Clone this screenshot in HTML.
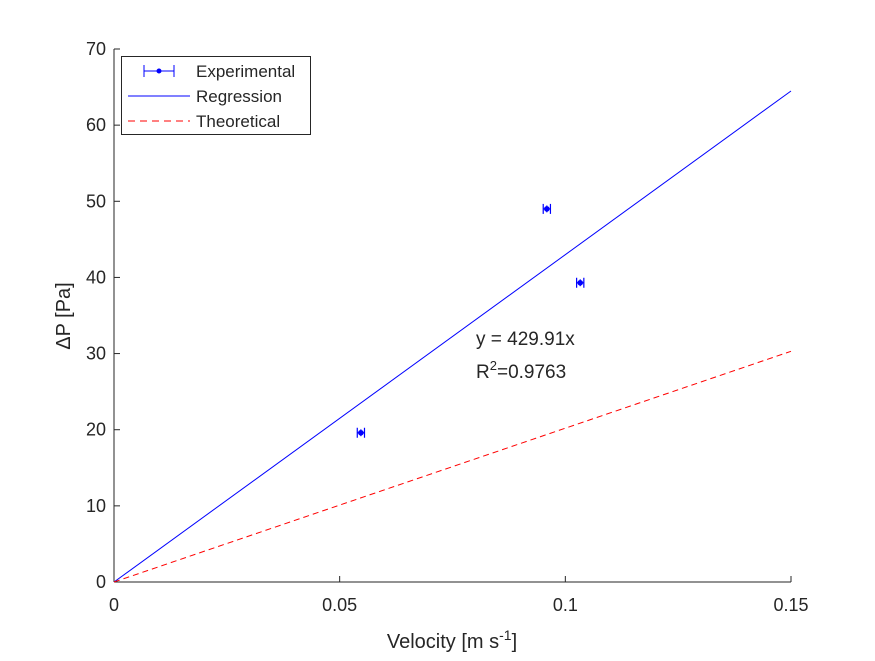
<!DOCTYPE html>
<html><head><meta charset="utf-8"><style>
body{margin:0;background:#fff;}
svg text{font-family:"Liberation Sans",Arial,sans-serif;fill:#262626;}
</style></head><body>
<svg id="chart" width="875" height="656" xmlns="http://www.w3.org/2000/svg">
<rect width="875" height="656" fill="#fff"/>
<g id="g"></g>
</svg>
<script>
const xTicks=[0,0.05,0.1,0.15];
const xTickLabels=["0","0.05","0.1","0.15"];
const yTicks=[0,10,20,30,40,50,60,70];
const expX=[0.0547,0.0959,0.1033];
const expY=[19.6,49.0,39.3];
const expXErr=[0.0008,0.0008,0.0008];
const expYErr=[0.45,0.45,0.45];
const regSlope=[429.91];
const theoSlope=[202];
const lineX=[0,0.15];

const NS="http://www.w3.org/2000/svg";
const g=document.getElementById('g');
const X=v=>114+v/0.15*677;
const Y=v=>582-v/70*533;
function el(t,a,p){const e=document.createElementNS(NS,t);for(const k in a)e.setAttribute(k,a[k]);(p||g).appendChild(e);return e;}

let ax=el('line',{x1:114,y1:582,x2:791,y2:582,stroke:'#262626','stroke-width':1});


let ay=el('line',{x1:114,y1:49,x2:114,y2:582,stroke:'#262626','stroke-width':1});


xTicks.forEach((v,i)=>{
 let t=el('line',{x1:X(v),y1:582,x2:X(v),y2:576,stroke:'#262626'});
 
 
 let l=el('text',{x:X(v),y:611,'text-anchor':'middle','font-size':18});l.textContent=xTickLabels[i];
 
 
});
yTicks.forEach(v=>{
 let t=el('line',{x1:114,y1:Y(v),x2:120,y2:Y(v),stroke:'#262626'});
 
 
 let l=el('text',{x:106,y:Y(v)+6,'text-anchor':'end','font-size':18});l.textContent=v;
 
 
});
let xt=el('text',{x:452,y:648,'text-anchor':'middle','font-size':20});
xt.innerHTML='Velocity [m s<tspan dy="-8" font-size="14">-1</tspan><tspan dy="8">]</tspan>';


let yt=el('text',{x:0,y:0,'text-anchor':'middle','font-size':20,transform:'translate(70,316) rotate(-90)'});
yt.textContent='\u0394P [Pa]';



let rl=el('line',{x1:X(lineX[0]),y1:Y(regSlope[0]*lineX[0]),x2:X(lineX[1]),y2:Y(regSlope[0]*lineX[1]),stroke:'#0000ff','stroke-width':1});


let tl=el('line',{x1:X(lineX[0]),y1:Y(theoSlope[0]*lineX[0]),x2:X(lineX[1]),y2:Y(theoSlope[0]*lineX[1]),stroke:'#ff0000','stroke-width':1,'stroke-dasharray':'6,4'});



expX.forEach((v,i)=>{
 const cx=X(v),cy=Y(expY[i]),x0=X(v-expXErr[i]),x1=X(v+expXErr[i]),y0=Y(expY[i]-expYErr[i]),y1=Y(expY[i]+expYErr[i]);
 const pg=el('g',{stroke:'#0000ff','stroke-width':1.2,fill:'#0000ff'});
 
 
 el('line',{x1:x0,y1:cy,x2:x1,y2:cy},pg);
 el('line',{x1:x0,y1:cy-5,x2:x0,y2:cy+5},pg);
 el('line',{x1:x1,y1:cy-5,x2:x1,y2:cy+5},pg);
 el('line',{x1:cx,y1:y0,x2:cx,y2:y1},pg);
 el('circle',{cx:cx,cy:cy,r:2.2},pg);
});

let a1=el('text',{x:476,y:345,'font-size':19});a1.textContent='y = 429.91x';


let a2=el('text',{x:476,y:378,'font-size':19});a2.innerHTML='R<tspan dy="-8" font-size="13">2</tspan><tspan dy="8">=0.9763</tspan>';



const lg=el('g',{});


el('rect',{x:121.5,y:56.5,width:189,height:78,fill:'#fff',stroke:'#262626'},lg);
const e1=el('g',{stroke:'#0000ff',fill:'#0000ff'},lg);


el('line',{x1:144,y1:71,x2:174,y2:71},e1);el('line',{x1:144,y1:65,x2:144,y2:77},e1);el('line',{x1:174,y1:65,x2:174,y2:77},e1);
el('circle',{cx:159,cy:71,r:2},e1);
let t1=el('text',{x:196,y:77,'font-size':17},lg);t1.textContent='Experimental';
let l2=el('line',{x1:128,y1:96,x2:190,y2:96,stroke:'#0000ff'},lg);


let t2=el('text',{x:196,y:102,'font-size':17},lg);t2.textContent='Regression';
let l3=el('line',{x1:128,y1:121,x2:190,y2:121,stroke:'#ff0000','stroke-dasharray':'7,5'},lg);


let t3=el('text',{x:196,y:127,'font-size':17},lg);t3.textContent='Theoretical';
</script>
</body></html>
